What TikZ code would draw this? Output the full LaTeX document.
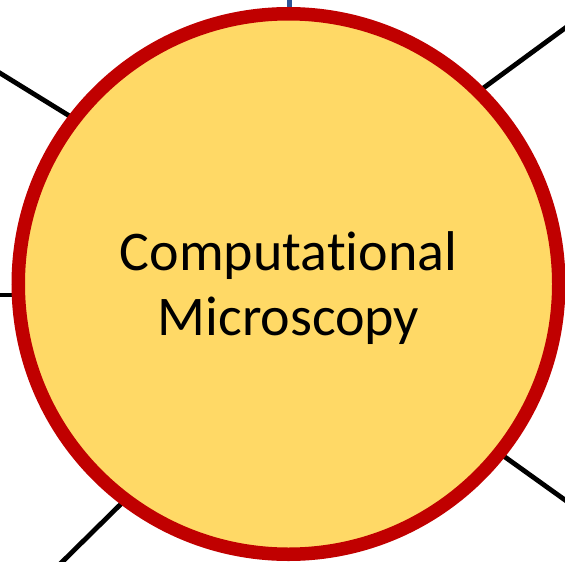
\documentclass[tikz,border=0pt]{standalone}
\usepackage{fontspec}
\setmainfont[RawFeature=-liga]{Carlito}
\definecolor{ringred}{HTML}{C00000}
\definecolor{goldfill}{HTML}{FFD966}
\definecolor{spokeblue}{HTML}{2F5597}
\begin{document}
\begin{tikzpicture}[x=1pt,y=-1pt,
  spoke/.style={draw=black,line width=4.8pt},
  hub/.style={circle,draw=ringred,fill=goldfill,line width=13.5pt,minimum size=540.5pt,inner sep=0pt,outer sep=0pt},
  hubtext/.style={align=center,inner sep=0pt,font=\fontsize{56}{65}\selectfont}]
\useasboundingbox (0,0) rectangle (565,562);
\clip (0,0) rectangle (565,562);
\coordinate (ulA) at (-5,70);   \coordinate (ulB) at (76,120);
\coordinate (lA) at (-5,295);   \coordinate (lB) at (20,295);
\coordinate (llA) at (57,567);  \coordinate (llB) at (127,498);
\coordinate (lrA) at (572,505); \coordinate (lrB) at (498,452);
\coordinate (urA) at (572,23);  \coordinate (urB) at (478,92);
\coordinate (tA) at (289,-5);   \coordinate (tB) at (289,14);
\draw[spoke] (ulA) -- (ulB);
\draw[spoke] (lA) -- (lB);
\draw[spoke] (llA) -- (llB);
\draw[spoke] (lrA) -- (lrB);
\draw[spoke] (urA) -- (urB);
\draw[draw=spokeblue,line width=5pt] (tA) -- (tB);
\node[hub] (hub) at (288.5,284) {};
\node[hubtext] (label) at (288.5,288) {Computational\\Microscopy};
\end{tikzpicture}
\end{document}
